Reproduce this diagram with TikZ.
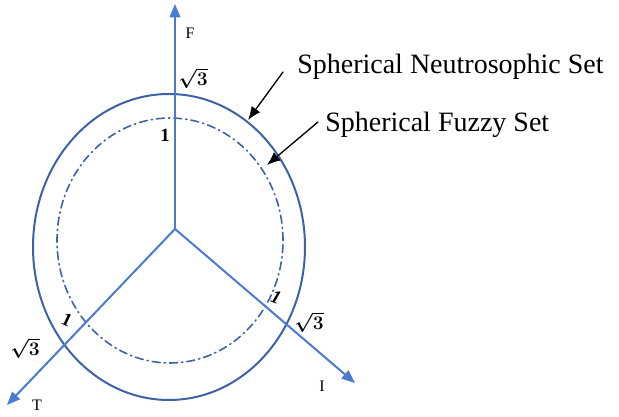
\documentclass[tikz,border=0pt]{standalone}
\usepackage{amsmath,amssymb}
\usepackage{fontspec}
\setmainfont{Liberation Serif}
\usepackage{xcolor}
\usepackage{tikz}
\usetikzlibrary{arrows.meta}
\definecolor{axisblue}{HTML}{4A7BD0}
\definecolor{rimblue}{HTML}{3F62A6}

\begin{document}
\begin{tikzpicture}[x=0.75pt, y=0.75pt, line cap=round,
    axis/.style={line width=1.5pt, axisblue, -{Triangle[length=10pt, width=8pt]}},
    rim/.style={line width=1.5pt, rimblue},
    lbl/.style={font=\fontsize{12}{14}\selectfont, inner sep=0pt},
    tick/.style={font=\fontsize{14}{16}\selectfont\bfseries, inner sep=0pt},
    settext/.style={font=\fontsize{21}{24}\selectfont, anchor=west, inner sep=0pt},
    pointer/.style={line width=1pt, black, -{Latex[length=10pt, width=8pt]}}]

  \useasboundingbox (0,0) rectangle (619,417);

  % ---- the two spheres seen from the side ----------------------------------
  \draw[rim] (169,170) ellipse (136 and 153);
  \draw[rim, line width=1.2pt, dash pattern=on 6pt off 3pt on 1pt off 3pt]
    (170,176.5) ellipse (113 and 122.5);

  % ---- the three axes --------------------------------------------------------
  \coordinate (o) at (175,188);
  \coordinate (ftip) at (175,413);
  \coordinate (ttip) at (7,12);
  \coordinate (itip) at (355,34);
  \draw[axis] (o) -- (ftip);
  \draw[axis] (o) -- (ttip);
  \draw[axis] (o) -- (itip);

  \node[lbl] (flabel) at (190,384) {F};
  \node[lbl] (tlabel) at (37,12) {T};
  \node[lbl] (ilabel) at (322,31) {I};

  % ---- unit marks on each axis ----------------------------------------------
  \node[tick] (fone) at (165,282) {1};
  \node[tick] (fsqrt) at (193,339) {$\boldsymbol{\sqrt{3}}$};
  \node[tick, rotate=-25] (tone) at (67,97) {1};
  \node[tick] (tsqrt) at (25,69) {$\boldsymbol{\sqrt{3}}$};
  \node[tick, rotate=-20] (ione) at (276,120) {\itshape 1};
  \node[tick] (isqrt) at (309,95) {$\boldsymbol{\sqrt{3}}$};

  % ---- names of the two sets with their pointers ----------------------------
  \node[settext] (nstext) at (297,350) {Spherical Neutrosophic Set};
  \node[settext] (fstext) at (325,292) {Spherical Fuzzy Set};
  \coordinate (nsfrom) at (283,345);
  \coordinate (nsto) at (248,297);
  \coordinate (fsfrom) at (318,295);
  \coordinate (fsto) at (267,252);
  \draw[pointer] (nsfrom) -- (nsto);
  \draw[pointer] (fsfrom) -- (fsto);
\end{tikzpicture}
\end{document}
